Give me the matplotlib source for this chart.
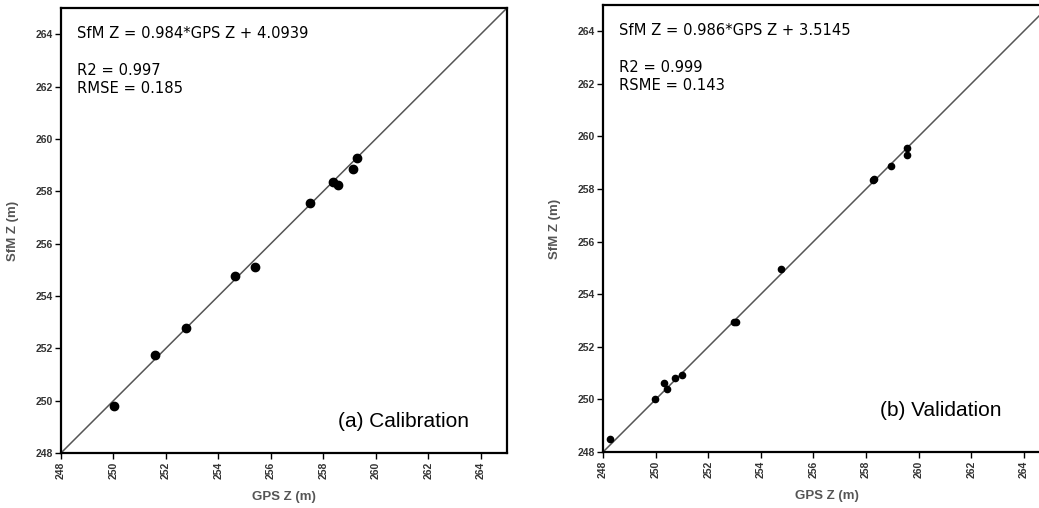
"""
SfM vs GPS elevation check: calibration and validation scatter plots
with a 1:1 reference line and the fit statistics written in the corner.
"""

import matplotlib.pyplot as plt
import numpy as np

plt.rcParams["font.family"] = ["Liberation Sans", "DejaVu Sans"]

# Calibration points (GPS Z, SfM Z) in metres
cal_gps = [250.03, 251.60, 252.78, 254.65, 255.39, 257.49, 258.38, 258.57, 259.13, 259.28]
cal_sfm = [249.80, 251.76, 252.79, 254.75, 255.11, 257.56, 258.34, 258.25, 258.86, 259.28]

# Validation points (GPS Z, SfM Z) in metres
val_gps = [248.27, 249.98, 250.32, 250.43, 250.74, 251.02, 252.99, 253.05,
           254.76, 258.25, 258.30, 258.95, 259.55, 259.55]
val_sfm = [248.49, 250.02, 250.61, 250.38, 250.83, 250.92, 252.95, 252.93,
           254.96, 258.34, 258.40, 258.89, 259.55, 259.29]

cal_text = ["SfM Z = 0.984*GPS Z + 4.0939", "R2 = 0.997", "RMSE = 0.185"]
val_text = ["SfM Z = 0.986*GPS Z + 3.5145", "R2 = 0.999", "RSME = 0.143"]

lims = (248, 265)
ticks = np.arange(248, 265, 2)

fig = plt.figure(figsize=(10.39, 5.08), dpi=100)
ax_a = fig.add_axes([0.0587, 0.1083, 0.4293, 0.876])
ax_b = fig.add_axes([0.5804, 0.1102, 0.4302, 0.880])


def draw_panel(ax, gps, sfm, stats, title, title_xy, msize):
    # 1:1 reference line
    ax.plot(lims, lims, color="#555555", linewidth=1.1, zorder=1)
    ax.plot(gps, sfm, "o", color="black", markersize=msize, zorder=2)

    ax.set_xlim(lims)
    ax.set_ylim(lims)
    ax.set_xticks(ticks)
    ax.set_yticks(ticks)
    ax.set_xticklabels([str(t) for t in ticks], rotation=90)
    ax.tick_params(direction="out", length=4, width=1, labelsize=7.5,
                   pad=2, labelcolor="#333333")
    for lbl in ax.get_xticklabels() + ax.get_yticklabels():
        lbl.set_fontweight("bold")
    for s in ax.spines.values():
        s.set_linewidth(1.6)

    ax.set_xlabel("GPS Z (m)", fontsize=9.5, color="#555555",
                  fontweight="bold", labelpad=9)
    ax.set_ylabel("SfM Z (m)", fontsize=9.5, color="#555555",
                  fontweight="bold", labelpad=12)

    # Fit statistics block
    ax.text(0.035, 0.943, stats[0], transform=ax.transAxes, fontsize=10.6,
            va="center", ha="left", family="DejaVu Sans")
    ax.text(0.035, 0.86, stats[1], transform=ax.transAxes, fontsize=10.6,
            va="center", ha="left", family="DejaVu Sans")
    ax.text(0.035, 0.82, stats[2], transform=ax.transAxes, fontsize=10.6,
            va="center", ha="left", family="DejaVu Sans")

    ax.text(title_xy[0], title_xy[1], title, transform=ax.transAxes,
            fontsize=15, va="center", ha="left")


draw_panel(ax_a, cal_gps, cal_sfm, cal_text, "(a) Calibration", (0.62, 0.07), 6)
draw_panel(ax_b, val_gps, val_sfm, val_text, "(b) Validation", (0.62, 0.093), 4.5)

plt.savefig("out.png", dpi=100)
